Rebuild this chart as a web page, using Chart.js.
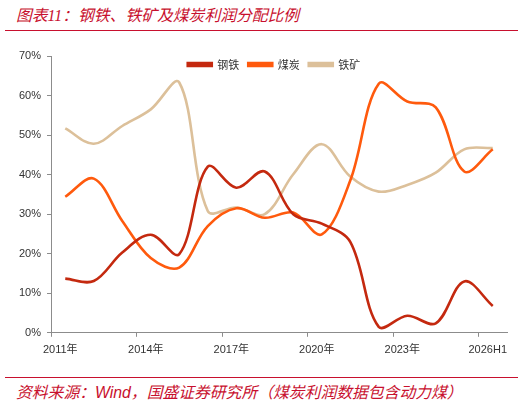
<!DOCTYPE html>
<html>
<head>
<meta charset="utf-8">
<script src="https://cdn.jsdelivr.net/npm/chart.js@4/dist/chart.umd.min.js"></script>
<style>
 body{margin:0;background:#fff;width:532px;height:401px;position:relative;overflow:hidden;font-family:"Liberation Sans","Noto Sans CJK SC",sans-serif}
 .ttl{position:absolute;left:16px;top:3px;font-size:15.8px;font-style:italic;color:#C8102E;font-family:"Liberation Serif","Noto Sans CJK SC",serif;white-space:nowrap}
 .rule{position:absolute;left:5px;width:513px;height:1px;background:#C8102E}
 .src{position:absolute;left:16px;top:380px;font-size:15.8px;font-style:italic;color:#C8102E;font-family:"Liberation Sans","Noto Sans CJK SC",sans-serif;white-space:nowrap}
 #wrap{position:absolute;left:0;top:36px;width:532px;height:328px}
</style>
</head>
<body>
<div class="ttl">图表11：钢铁、铁矿及煤炭利润分配比例</div>
<div class="rule" style="top:30px"></div>
<div id="wrap"><canvas id="chart"></canvas></div>
<div class="rule" style="top:377px"></div>
<div class="src">资料来源：Wind，国盛证券研究所（煤炭利润数据包含动力煤）</div>
<script>
/* ---------- DATA ---------- */
let years=["2011年","2012年","2013年","2014年","2015年","2016年","2017年","2018年","2019年","2020年","2021年","2022年","2023年","2024年","2025年","2026H1"];
let steel=[13.7,13.1,20.3,24.8,19.9,42.0,36.7,40.8,30.0,27.6,23.0,1.5,4.3,2.4,13.0,6.8];
let coal=[34.4,39.0,28.3,18.9,16.5,27.0,31.5,29.1,30.4,24.9,38.5,63.0,58.5,57.0,40.8,46.4];
let ore=[51.7,47.8,52.3,56.5,63.3,30.8,31.7,30.0,40.1,47.7,39.5,35.7,37.4,40.5,46.4,46.7];
let yTicks=[0,10,20,30,40,50,60,70];

let cjk='"Liberation Sans","Noto Sans CJK SC",sans-serif';
function ds(label,data,color){
 return {label:label,data:data,borderColor:color,backgroundColor:color,borderWidth:2.6,
  pointRadius:0,tension:0.35,fill:false};
}

/* legend floats inside the plot, takes no layout room */
let floatLegend={
 id:"floatLegend",
 beforeInit(c){
  let f=c.legend.fit;
  c.legend.fit=function(){f.call(this);this.height=0;};
 },
 afterLayout(c){
  let l=c.legend;
  l.left+=14;l.right+=14;
  l.top-=6;l.height=30;l.bottom=l.top+30;
 }
};

/* ---------- CHART ---------- */
new Chart(chart,{
 type:"line",
 data:{labels:years,datasets:[ds("钢铁",steel,"#C4290F"),ds("煤炭",coal,"#FF5A0D"),ds("铁矿",ore,"#DCC09A")]},
 plugins:[floatLegend],
 options:{
  responsive:true,maintainAspectRatio:false,animation:false,
  layout:{padding:{top:20,right:25,left:13,bottom:0}},
  plugins:{
   tooltip:{enabled:false},
   legend:{position:"top",align:"center",
    labels:{boxWidth:24,boxHeight:3,padding:9,color:"#333",font:{size:11,family:'"Noto Sans CJK SC",sans-serif'}}}
  },
  scales:{
   x:{offset:true,
    border:{color:"#8c8c8c",width:1},
    grid:{offset:true,drawOnChartArea:false,tickLength:4,
     tickColor:c=>c.index%3==0?"#8c8c8c":"rgba(0,0,0,0)"},
    ticks:{autoSkip:false,maxRotation:0,labelOffset:-5,color:"#333",padding:7,font:{size:11,family:cjk},
     callback:(v,i)=>i%3==0?years[i]:""}},
   y:{min:0,max:70,
    afterBuildTicks:a=>{a.ticks=yTicks.map(v=>({value:v}));},
    border:{color:"#8c8c8c",width:1},
    grid:{drawOnChartArea:false,tickLength:4,tickColor:"#8c8c8c"},
    ticks:{color:"#333",padding:6,font:{size:11,family:cjk},callback:v=>v+"%"}}
  }
 }
});
</script>
</body>
</html>
